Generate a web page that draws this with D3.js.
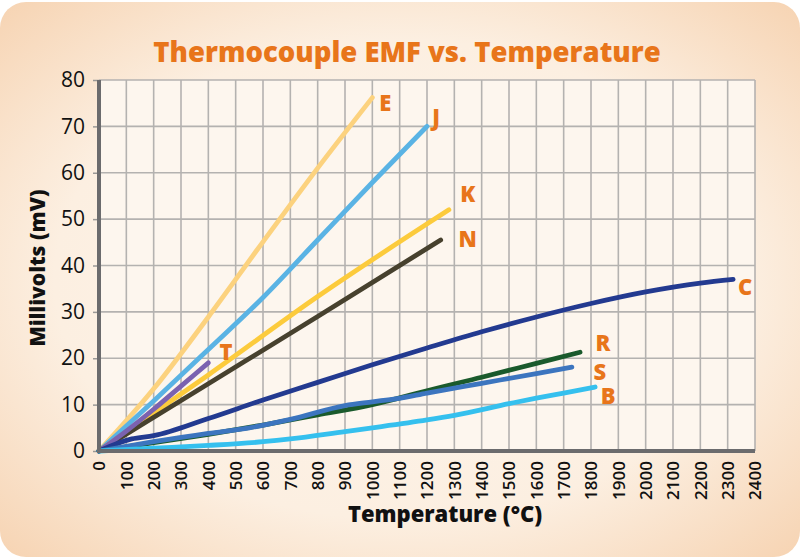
<!DOCTYPE html>
<html>
<head>
<meta charset="utf-8">
<script src="https://cdn.jsdelivr.net/npm/d3@7"></script>
<style>
html,body{margin:0;padding:0;background:#fff;}
svg{display:block;}
text{font-family:"Open Sans","Liberation Sans",sans-serif;}
</style>
</head>
<body>
<svg id="chart" width="800" height="560"></svg>
<script>
// ---- data ----
const xTicks = [0,100,200,300,400,500,600,700,800,900,1000,1100,1200,1300,1400,1500,1600,1700,1800,1900,2000,2100,2200,2300,2400];
const yTicks = [0,10,20,30,40,50,60,70,80];

const seriesNames = ["E","J","K","N","T","C","R","S","B"];
const E_temp = [0,200,400,600,800,1000];
const E_mv   = [0,13.4,28.9,45.1,61.0,76.2];
const J_temp = [0,200,400,600,800,1000,1200];
const J_mv   = [0,10.8,21.9,33.1,45.5,57.9,70.0];
const K_temp = [0,400,800,1280];
const K_mv   = [0,16.4,33.3,52.0];
const N_temp = [0,400,800,1250];
const N_mv   = [0,14.5,29.0,45.5];
const T_temp = [0,100,200,300,400];
const T_mv   = [0,4.3,9.0,14.0,19.0];
const C_temp = [0,120,200,400,600,800,1000,1200,1400,1600,1800,2000,2200,2320];
const C_mv   = [0,2.6,3.3,7.0,11.0,14.8,18.6,22.2,25.7,28.9,31.8,34.3,36.2,37.0];
const R_temp = [0,200,400,600,800,1000,1090,1200,1400,1600,1760];
const R_mv   = [0,1.8,3.6,5.6,7.8,10.0,11.3,13.0,15.9,18.9,21.3];
const S_temp = [0,200,400,550,700,900,1000,1090,1200,1400,1600,1730];
const S_mv   = [0,2.0,3.8,5.0,6.8,9.8,10.6,11.3,12.5,14.6,16.7,18.1];
const B_temp = [0,200,400,600,700,900,1000,1200,1300,1500,1600,1700,1815];
const B_mv   = [0,0.6,1.2,2.0,2.6,4.2,5.0,6.7,7.7,10.2,11.4,12.5,13.8];

const seriesColors = ["#fcd27e","#5ab3e4","#fccb3c","#47412e","#7b62b0","#233a90","#1a5a2c","#3c75bf","#35c0ee"];
const seriesTemps = [E_temp,J_temp,K_temp,N_temp,T_temp,C_temp,R_temp,S_temp,B_temp];
const seriesMv    = [E_mv,J_mv,K_mv,N_mv,T_mv,C_mv,R_mv,S_mv,B_mv];
// label offsets relative to series end point (px)
const labelDx = [13,9,19,27,0,12,23,28,13];
const labelDy = [4,-10,-17,-2,0,7,-10,4,8];

// ---- layout ----
const svg = d3.select("#chart");
const plot = {left:99, right:755, top:80, bottom:451};
const x = d3.scaleLinear().domain([0,2400]).range([plot.left, plot.right]);
const y = d3.scaleLinear().domain([0,80]).range([plot.bottom, plot.top]);

const defs = svg.append("defs");
const rg = defs.append("radialGradient").attr("id","cardGrad")
  .attr("cx","50%").attr("cy","50%").attr("r","72%");
rg.append("stop").attr("offset","0%").attr("stop-color","#fdf5ec");
rg.append("stop").attr("offset","60%").attr("stop-color","#fcefe1");
rg.append("stop").attr("offset","100%").attr("stop-color","#f6d2b0");

svg.append("rect").attr("x",0).attr("y",2).attr("width",800).attr("height",555)
  .attr("rx",26).attr("fill","url(#cardGrad)");

// plot background
svg.append("rect").attr("x",plot.left).attr("y",plot.top)
  .attr("width",plot.right-plot.left).attr("height",plot.bottom-plot.top)
  .attr("fill","#fdf6ee");

// grid
const grid = svg.append("g");
grid.selectAll("line.v").data(xTicks.slice(1)).join("line")
  .attr("x1",d=>x(d)).attr("x2",d=>x(d))
  .attr("y1",plot.top).attr("y2",plot.bottom)
  .attr("stroke","#b4b2b0").attr("stroke-width",1.6);
grid.selectAll("line.h").data(yTicks.slice(1)).join("line")
  .attr("x1",plot.left).attr("x2",plot.right)
  .attr("y1",d=>y(d)).attr("y2",d=>y(d))
  .attr("stroke","#b4b2b0").attr("stroke-width",1.6);

// y axis
const yAxis = svg.append("g").attr("transform",`translate(${plot.left},0)`)
  .call(d3.axisLeft(y).tickValues(yTicks).tickSize(6).tickPadding(8));
yAxis.select(".domain").remove();
yAxis.selectAll(".tick line").attr("stroke","#9a9896").attr("stroke-width",1.5);
yAxis.selectAll(".tick text").attr("font-size","21px").attr("fill","#111")
  .attr("font-family","'Open Sans',sans-serif");

// x axis
const xAxis = svg.append("g").attr("transform",`translate(0,${plot.bottom})`)
  .call(d3.axisBottom(x).tickValues(xTicks).tickFormat(d3.format("d")).tickSize(0).tickPadding(0));
xAxis.select(".domain").remove();
xAxis.selectAll(".tick text")
  .attr("font-size","17px").attr("font-weight","600").attr("fill","#111")
  .attr("text-anchor","end")
  .attr("transform","translate(0,10) rotate(-90)")
  .attr("dy","0.35em").attr("y",0).attr("x",0);

// series lines
const line = d3.line().x(d=>x(d[0])).y(d=>y(d[1])).curve(d3.curveMonotoneX);
const seriesData = seriesNames.map((n,i)=>({
  name:n, color:seriesColors[i],
  pts: seriesTemps[i].map((t,j)=>[t, seriesMv[i][j]]),
  dx:labelDx[i], dy:labelDy[i]
}));
svg.append("g").selectAll("path").data(seriesData).join("path")
  .attr("d",d=>line(d.pts))
  .attr("fill","none").attr("stroke",d=>d.color)
  .attr("stroke-width",4.8).attr("stroke-linecap","round").attr("stroke-linejoin","round");

// axis lines (thick gray)
svg.append("line").attr("x1",plot.left).attr("x2",plot.left)
  .attr("y1",plot.top).attr("y2",plot.bottom+2)
  .attr("stroke","#6b6b6d").attr("stroke-width",4);
svg.append("line").attr("x1",plot.left-2).attr("x2",plot.right)
  .attr("y1",plot.bottom).attr("y2",plot.bottom)
  .attr("stroke","#6b6b6d").attr("stroke-width",4);

// series labels
const labelPos = seriesData.map(d=>{
  const last = d.pts[d.pts.length-1];
  return {name:d.name, px:x(last[0])+d.dx, py:y(last[1])+d.dy};
});
// T label sits above its line rather than at the end
labelPos[4].px = x(465); labelPos[4].py = y(21.5);
svg.append("g").selectAll("text").data(labelPos).join("text")
  .attr("x",d=>d.px).attr("y",d=>d.py)
  .attr("text-anchor","middle").attr("dominant-baseline","central")
  .attr("font-size","22px").attr("font-weight","800").attr("fill","#e8751a")
  .text(d=>d.name);

// title
svg.append("text").attr("x",407).attr("y",62).attr("text-anchor","middle")
  .attr("font-size","27.5px").attr("font-weight","800").attr("fill","#e8751a")
  .text("Thermocouple EMF vs. Temperature");

// axis titles
svg.append("text").attr("x",445).attr("y",522).attr("text-anchor","middle")
  .attr("font-size","22px").attr("font-weight","800").attr("fill","#111")
  .text("Temperature (°C)");
svg.append("text").attr("transform","translate(45,268) rotate(-90)")
  .attr("text-anchor","middle")
  .attr("font-size","21px").attr("font-weight","800").attr("fill","#111")
  .text("Millivolts (mV)");
</script>
</body>
</html>
